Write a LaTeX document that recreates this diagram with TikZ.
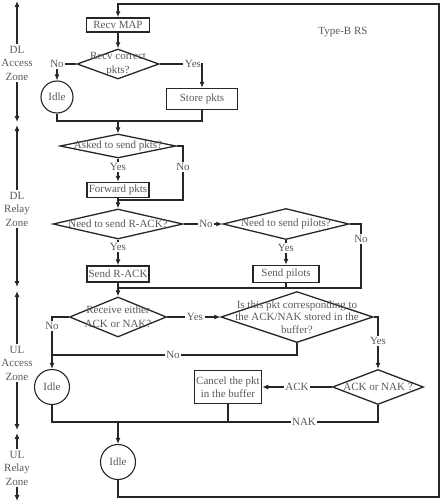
\documentclass[tikz,border=0pt]{standalone}
\usepackage{fontspec}
\setmainfont{Liberation Serif}
\usetikzlibrary{arrows.meta,positioning,shapes.geometric}

\begin{document}
\begin{tikzpicture}[x=1pt, y=-1pt, >={Latex[length=6pt,width=5pt]},
  line width=1.1pt, color=black!85,
  font=\fontsize{11}{13.5}\selectfont,
  every node/.style={text=black!65},
  proc/.style={draw, rectangle, inner sep=0pt, line width=1.5pt},
  decision/.style={draw, diamond, inner sep=0pt, line width=1.3pt},
  idle/.style={draw, circle, inner sep=0pt, minimum size=34pt},
  lbl/.style={inner sep=1pt},
  zone/.style={align=center, inner sep=1pt}]

  \useasboundingbox (0,0) rectangle (442,504);

  % Zones on the left
  \foreach \zn/\zy/\zt/\zb/\ztxt in {dla/63/1/122/{DL\\Access\\Zone},
      dlr/209/125/287/{DL\\Relay\\Zone}, ula/363/291/430/{UL\\Access\\Zone},
      ulr/468/433/501/{UL\\Relay\\Zone}} {
    \node[zone] (\zn) at (17,\zy) {\ztxt};
    \coordinate (\zn-top) at (17,\zt);
    \coordinate (\zn-bot) at (17,\zb);
    \draw[->] (\zn.north) -- (\zn-top);
    \draw[->] (\zn.south) -- (\zn-bot);
  }

  \node (type) at (343,32) {Type-B RS};

  % DL access
  \node[proc, minimum width=63pt, minimum height=14pt] (map) at (118,25) {Recv MAP};
  \node[decision, minimum width=82pt, minimum height=30pt,
    label={[align=center]center:Recv correct\\pkts?}] (rcv) at (118,64) {};
  \node[idle, minimum size=32pt] (idle1) at (57,97) {Idle};
  \node[proc, minimum width=71pt, minimum height=21pt] (store) at (202,99) {Store pkts};
  \node[lbl] (no1) at (57,64) {No};
  \node[lbl] (yes1) at (193,64) {Yes};
  \coordinate (m1) at (118,121);

  \draw[->] (map) -- (rcv);
  \draw (rcv.west) -- (no1.east);
  \draw[->] (no1) -- (idle1);
  \draw (rcv.east) -- (yes1.west);
  \draw[->] (yes1.east) -| (store.north);
  \draw (idle1.south) |- (m1) -| (store.south);

  % DL relay
  \node[decision, minimum width=116pt, minimum height=24pt,
    label=center:Asked to send pkts?] (ask) at (118,146) {};
  \node[lbl] (yes2) at (118,167) {Yes};
  \node[lbl] (no2) at (183,167) {No};
  \node[proc, minimum width=62pt, minimum height=15pt] (fwd) at (118,190) {Forward pkts};
  \coordinate (m2) at (118,200);
  \node[decision, minimum width=130pt, minimum height=30pt,
    label=center:Need to send R-ACK?] (rack) at (118,224) {};
  \node[lbl] (no3) at (206,224) {No};
  \node[decision, minimum width=126pt, minimum height=31pt,
    label=center:Need to send pilots?] (pil) at (286,224) {};
  \node[lbl] (yes3) at (118,247) {Yes};
  \node[lbl] (yes4) at (286,248) {Yes};
  \node[lbl] (no4) at (361,239) {No};
  \node[proc, minimum width=62pt, minimum height=16pt] (sendrack) at (118,274) {Send R-ACK};
  \node[proc, minimum width=66pt, minimum height=17pt] (sendpil) at (286,274) {Send pilots};
  \coordinate (m3) at (118,288);

  \draw[->] (m1) -- (ask.north);
  \draw (ask.south) -- (yes2);
  \draw[->] (yes2) -- (fwd);
  \draw (ask.east) -| (no2.north);
  \draw (no2.south) |- (m2);
  \draw (fwd.south) -- (m2);
  \draw[->] (m2) -- (rack.north);
  \draw (rack.east) -- (no3);
  \draw[->] (no3) -- (pil.west);
  \draw (rack.south) -- (yes3);
  \draw[->] (yes3) -- (sendrack);
  \draw (pil.south) -- (yes4);
  \draw[->] (yes4) -- (sendpil);
  \draw (pil.east) -| (no4.north);
  \draw (no4.south) |- (m3);
  \draw (sendrack.south) -- (m3);
  \draw (sendpil.south) -- (sendpil.south |- m3);

  % UL access
  \node[decision, minimum width=97pt, minimum height=40pt,
    label={[align=center]center:Receive either\\ACK or NAK?}] (either) at (118,317) {};
  \node[decision, minimum width=152pt, minimum height=51pt,
    label={[align=center, font=\fontsize{11}{12.5}\selectfont]center:Is this pkt corresponding to\\the ACK/NAK stored in the\\buffer?}] (corr) at (297,317) {};
  \node[lbl] (yes5) at (195,317) {Yes};
  \node[lbl] (no5) at (52,326) {No};
  \node[lbl] (yes6) at (378,341) {Yes};
  \node[lbl] (no6) at (173,355) {No};
  \coordinate (j1) at (52,355);
  \node[idle, minimum size=35pt] (idle2) at (52,387) {Idle};
  \node[proc, minimum width=67pt, minimum height=33pt, align=center] (cancel) at (228,387) {Cancel the pkt\\in the buffer};
  \node[lbl] (acklbl) at (297,387) {ACK};
  \node[decision, minimum width=91pt, minimum height=35pt,
    label=center:ACK or NAK ?] (acknak) at (378,387) {};
  \node[lbl] (naklbl) at (304,422) {NAK};
  \coordinate (m4) at (118,422);

  \draw[->] (m3) -- (either.north);
  \draw (either.west) -| (no5.north);
  \draw[->] (no5.south) -- (idle2.north);
  \draw (either.east) -- (yes5);
  \draw[->] (yes5) -- (corr.west);
  \draw (corr.south) |- (no6.east);
  \draw (no6.west) -- (j1);
  \draw (corr.east) -| (yes6.north);
  \draw[->] (yes6) -- (acknak.north);
  \draw (acknak.west) -- (acklbl);
  \draw[->] (acklbl) -- (cancel.east);
  \draw (acknak.south) |- (naklbl.east);
  \draw (idle2.south) |- (naklbl.west);
  \draw (cancel.south) -- (cancel.south |- m4);

  % UL relay and loop back
  \node[idle, minimum size=35pt] (idle3) at (118,462) {Idle};
  \coordinate (c1) at (439,497);
  \coordinate (c2) at (439,4);
  \draw[->] (m4) -- (idle3.north);
  \draw[->] (idle3.south) |- (c1) -- (c2) -| (map.north);

\end{tikzpicture}
\end{document}
